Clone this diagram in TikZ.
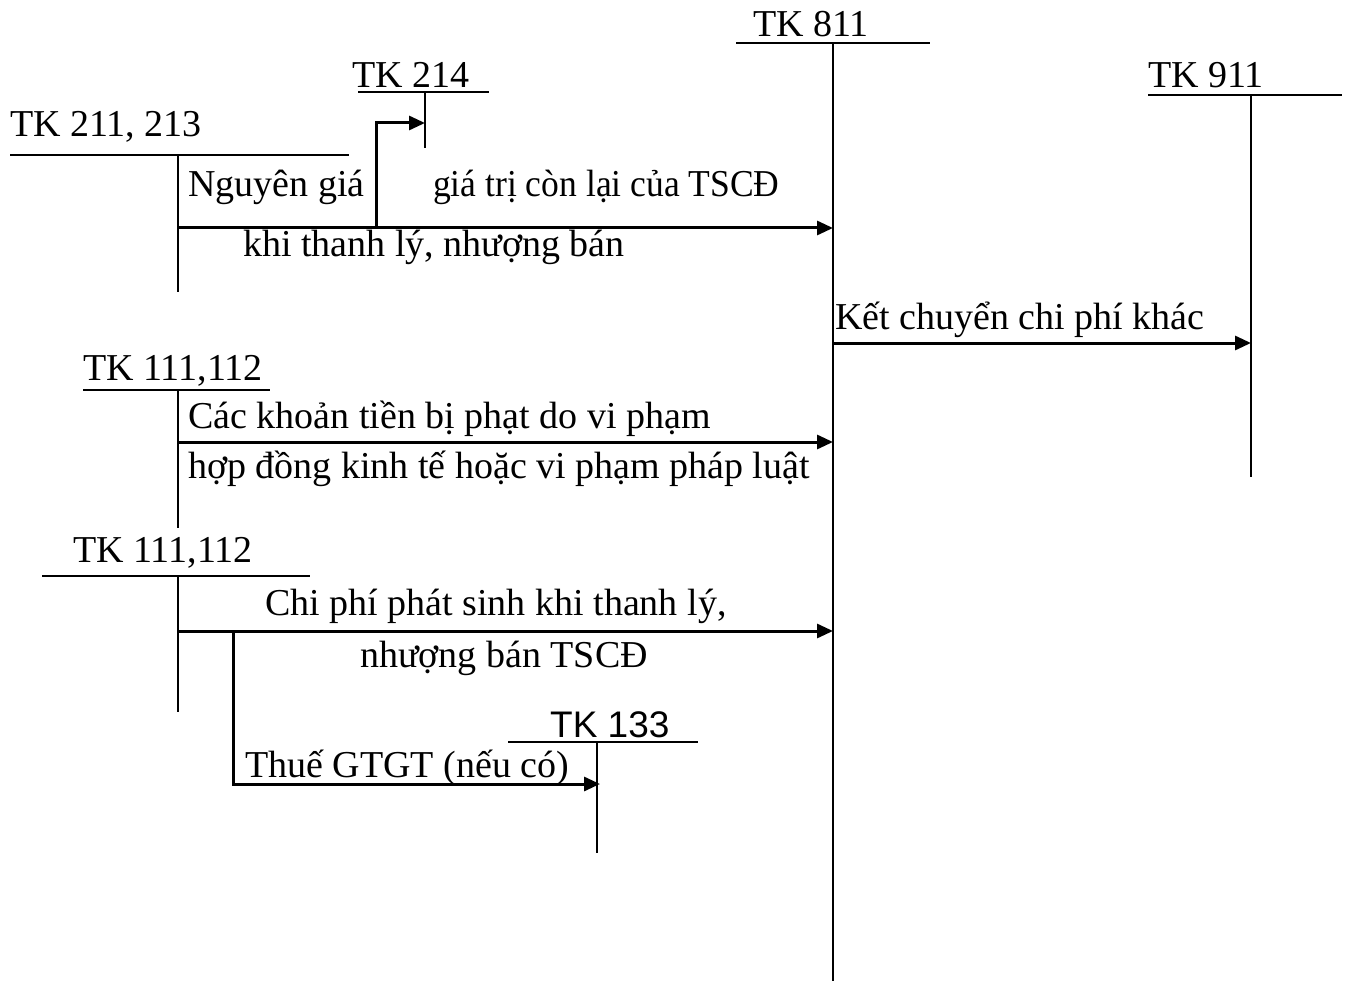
\documentclass[tikz,border=0pt]{standalone}
\usepackage{fontspec}
\setmainfont{Liberation Serif}
\newfontfamily\sansfont{Liberation Sans}
\newfontfamily\narrowserif[FakeStretch=0.935]{Liberation Serif}
\usetikzlibrary{arrows.meta}
\tikzset{
  tline/.style={line width=2.2pt},
  flow/.style={line width=3pt, -{Triangle[length=16pt,width=14pt]}},
  lbl/.style={anchor=base west, inner sep=0pt, font=\fontsize{38}{40}\selectfont},
}
\begin{document}
\begin{tikzpicture}[x=1pt, y=-1pt]
  \useasboundingbox (0,0) rectangle (1351,981);

  % --- 1. TK 811 ---
  \node[lbl] (t811) at (753,37) {TK 811};
  \coordinate (a811L) at (736,43);
  \coordinate (a811R) at (930,43);
  \coordinate (a811) at (833,43);
  \coordinate (a811B) at (833,981);
  \draw[tline] (a811L) -- (a811R);
  \draw[tline] (a811) -- (a811B);

  % --- 2. TK 911 ---
  \node[lbl] (t911) at (1148,88) {TK 911};
  \coordinate (a911L) at (1148,95);
  \coordinate (a911R) at (1342,95);
  \coordinate (a911) at (1251,95);
  \coordinate (a911B) at (1251,477);
  \draw[tline] (a911L) -- (a911R);
  \draw[tline] (a911) -- (a911B);

  % --- 3. TK 214 ---
  \node[lbl] (t214) at (352,88) {TK 214};
  \coordinate (a214L) at (358,92);
  \coordinate (a214R) at (489,92);
  \coordinate (a214) at (425,92);
  \coordinate (a214B) at (425,148);
  \draw[tline] (a214L) -- (a214R);
  \draw[tline] (a214) -- (a214B);

  % --- 4. TK 211, 213 ---
  \node[lbl] (t211) at (10,137) {TK 211, 213};
  \coordinate (a211L) at (10,155);
  \coordinate (a211R) at (349,155);
  \coordinate (a211) at (178,155);
  \coordinate (a211B) at (178,292);
  \draw[tline] (a211L) -- (a211R);
  \draw[tline] (a211) -- (a211B);

  % thanh ly: 211 -> 811, nhanh sang 214
  \coordinate (f1s) at (178,228);
  \coordinate (f1e) at (833,228);
  \coordinate (br1) at (376,228);
  \coordinate (a214m) at (425,123);
  \draw[flow] (f1s) -- (f1e);
  \draw[flow] (br1) |- (a214m);
  \node[lbl] (ng) at (188,197) {Nguyên giá};
  \node[lbl, font=\narrowserif\fontsize{38}{40}\selectfont] (gtcl) at (433,197) {giá trị còn lại của TSCĐ};
  \node[lbl] (ktl) at (243,257) {khi thanh lý, nhượng bán};

  % --- 5. 811 -> 911 ---
  \coordinate (f2s) at (833,343);
  \coordinate (f2e) at (1251,343);
  \draw[flow] (f2s) -- (f2e);
  \node[lbl] (kc) at (835,330) {Kết chuyển chi phí khác};

  % --- 6. TK 111,112 (tien phat) ---
  \node[lbl] (t111a) at (83,380) {TK 111,112};
  \coordinate (a111aL) at (83,390);
  \coordinate (a111aR) at (270,390);
  \coordinate (a111a) at (178,390);
  \coordinate (a111aB) at (178,528);
  \draw[tline] (a111aL) -- (a111aR);
  \draw[tline] (a111a) -- (a111aB);

  \coordinate (f3s) at (178,442);
  \coordinate (f3e) at (833,442);
  \draw[flow] (f3s) -- (f3e);
  \node[lbl] (phat1) at (188,428) {Các khoản tiền bị phạt do vi phạm};
  \node[lbl] (phat2) at (188,478) {hợp đồng kinh tế hoặc vi phạm pháp luật};

  % --- 7. TK 111,112 (chi phi thanh ly) ---
  \node[lbl] (t111b) at (73,562) {TK 111,112};
  \coordinate (a111bL) at (42,576);
  \coordinate (a111bR) at (310,576);
  \coordinate (a111b) at (178,576);
  \coordinate (a111bB) at (178,712);
  \draw[tline] (a111bL) -- (a111bR);
  \draw[tline] (a111b) -- (a111bB);

  \coordinate (f4s) at (178,631);
  \coordinate (f4e) at (833,631);
  \draw[flow] (f4s) -- (f4e);
  \node[lbl] (cp1) at (265,615) {Chi phí phát sinh khi thanh lý,};
  \node[lbl] (cp2) at (360,667) {nhượng bán TSCĐ};

  % --- 8. TK 133 ---
  \node[lbl, font=\sansfont\fontsize{37}{40}\selectfont] (t133) at (550,737) {TK 133};
  \coordinate (a133L) at (508,742);
  \coordinate (a133R) at (698,742);
  \coordinate (a133) at (597,742);
  \coordinate (a133B) at (597,853);
  \draw[tline] (a133L) -- (a133R);
  \draw[tline] (a133) -- (a133B);

  \coordinate (br2) at (233,631);
  \coordinate (a133m) at (600,784);
  \draw[flow] (br2) |- (a133m);
  \node[lbl] (vat) at (245,777) {Thuế GTGT (nếu có)};

\end{tikzpicture}
\end{document}
